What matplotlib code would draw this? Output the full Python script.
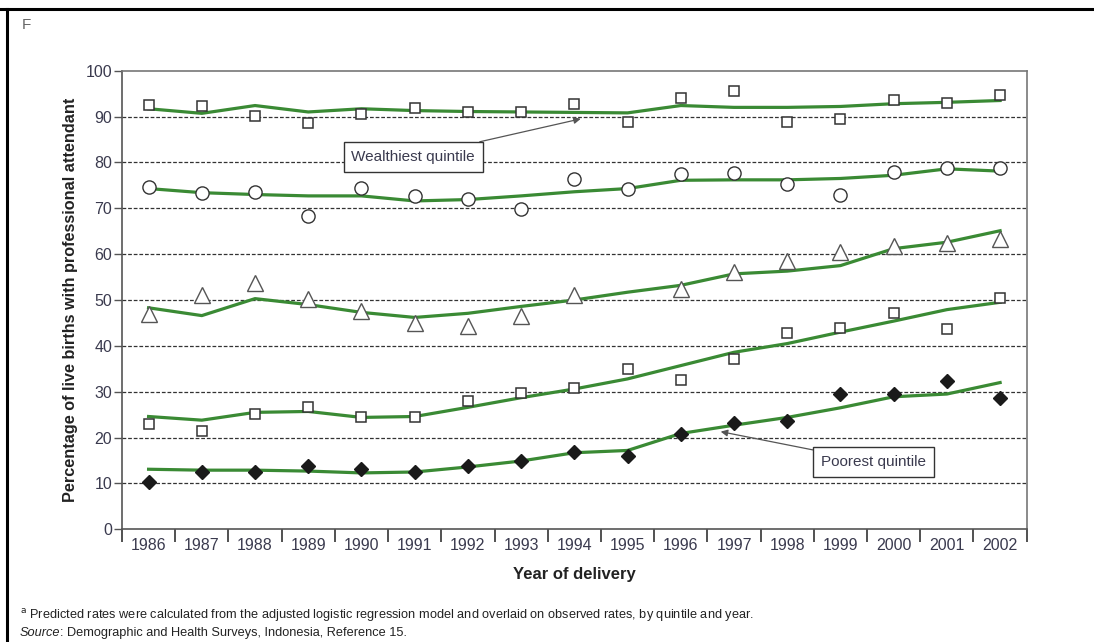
import matplotlib
matplotlib.use('Agg')
import matplotlib.pyplot as plt
import numpy as np

plt.rcParams['font.family'] = ['Liberation Sans Narrow', 'Liberation Sans', 'DejaVu Sans']

years = list(range(1986, 2003))

# observed rates (markers)
obs_q5 = [92.6, 92.2, 90.2, 88.6, 90.5, 91.8, 91.0, 91.0, 92.7, 88.8, 94.0, 95.6, 88.8, 89.4, 93.5, 92.9, 94.7]
obs_q4 = [74.7, 73.4, 73.6, 68.4, 74.5, 72.6, 72.0, 69.8, 76.4, 74.1, 77.4, 77.8, 75.3, 73.0, 77.9, 78.8, 78.7]
obs_q3 = [47.0, 51.2, 53.7, 50.3, 47.7, 45.0, 44.3, 46.6, 51.0, np.nan, 52.3, 56.0, 58.5, 60.5, 61.7, 62.5, 63.2]
obs_q2 = [22.9, 21.4, 25.2, 26.7, 24.4, 24.6, 27.9, 29.8, 30.9, 34.9, 32.6, 37.1, 42.7, 43.8, 47.2, 43.6, 50.5]
obs_q1 = [10.3, 12.5, 12.5, 13.8, 13.1, 12.5, 13.7, 14.9, 16.8, 15.9, 20.7, 23.1, 23.6, 29.6, 29.5, 32.4, 28.6]

# predicted rates (lines)
pred_q5 = [91.7, 90.7, 92.4, 91.0, 91.7, 91.3, 91.1, 91.0, 90.9, 90.8, 92.4, 92.0, 92.0, 92.2, 92.8, 93.1, 93.5]
pred_q4 = [74.3, 73.4, 73.0, 72.7, 72.7, 71.6, 71.9, 72.7, 73.6, 74.3, 76.1, 76.2, 76.2, 76.5, 77.2, 78.6, 78.1]
pred_q3 = [48.3, 46.6, 50.3, 49.0, 47.3, 46.2, 47.1, 48.6, 50.0, 51.7, 53.2, 55.7, 56.3, 57.5, 61.2, 62.6, 65.1]
pred_q2 = [24.6, 23.8, 25.5, 25.7, 24.4, 24.6, 26.6, 28.7, 30.6, 32.8, 35.7, 38.6, 40.5, 43.0, 45.4, 47.9, 49.5]
pred_q1 = [13.1, 12.9, 12.9, 12.7, 12.3, 12.5, 13.6, 14.9, 16.7, 17.2, 20.9, 22.7, 24.4, 26.5, 28.9, 29.5, 32.0]

txt_col = '#3a3a4e'
green = '#3a8a34'
edge = '#333333'

fig = plt.figure(figsize=(10.94, 6.42), dpi=100)
ax = fig.add_axes([0.1115, 0.1755, 0.827, 0.7144])

for pred in (pred_q5, pred_q4, pred_q3, pred_q2, pred_q1):
    ax.plot(years, pred, color=green, lw=2.3, zorder=3)

ax.plot(years, obs_q5, ls='none', marker='s', ms=7.5, mfc='white', mec=edge, mew=1.1, zorder=4)
ax.plot(years, obs_q4, ls='none', marker='o', ms=9.5, mfc='white', mec=edge, mew=1.0, zorder=4)
ax.plot(years, obs_q3, ls='none', marker='^', ms=11, mfc='white', mec='#555555', mew=1.0, zorder=4)
ax.plot(years, obs_q2, ls='none', marker='s', ms=7.5, mfc='white', mec=edge, mew=1.1, zorder=4)
ax.plot(years, obs_q1, ls='none', marker='D', ms=7.5, mfc='#1a1a1a', mec='#1a1a1a', zorder=4)

ax.set_xlim(1985.5, 2002.5)
ax.set_ylim(0, 100)
ax.set_yticks(range(0, 101, 10))
ax.set_xticks(years)
ax.set_xticklabels([str(y) for y in years])
ax.set_xticks(np.arange(1985.5, 2003, 1), minor=True)
ax.tick_params(axis='x', which='major', length=0, pad=6, labelsize=11.5, labelcolor=txt_col)
ax.tick_params(axis='x', which='minor', length=9, width=1.2, color='#333333', direction='out')
ax.tick_params(axis='y', length=6, width=1.0, color='#555555', labelsize=11.5, labelcolor=txt_col, pad=1)

for y in range(10, 100, 10):
    ax.axhline(y, color='#333333', lw=0.9, ls=(0, (3, 1.5)), zorder=1)

for s in ax.spines.values():
    s.set_color('#777777')
    s.set_linewidth(1.2)
ax.spines['left'].set_color('#555555')
ax.spines['bottom'].set_color('#555555')

ax.set_xlabel('Year of delivery', fontsize=12, fontweight='bold', color='#222222', labelpad=10)
ax.set_ylabel('Percentage of live births with professional attendant', fontsize=11.7,
              fontweight='bold', color='#222222')
ax.yaxis.set_label_coords(-0.049, 0.5)

box = dict(boxstyle='square,pad=0.5', fc='white', ec='#333333', lw=1.0)
ax.annotate('Wealthiest quintile', xy=(1994.12, 89.5), xytext=(1990.97, 81.2),
            ha='center', va='center', fontsize=11, color=txt_col, bbox=box,
            arrowprops=dict(arrowstyle='-|>', color='#555555', lw=0.9, mutation_scale=10,
                            shrinkA=0, shrinkB=0), zorder=5)
ax.annotate('Poorest quintile', xy=(1996.75, 21.3), xytext=(1999.62, 14.7),
            ha='center', va='center', fontsize=11, color=txt_col, bbox=box,
            arrowprops=dict(arrowstyle='-|>', color='#555555', lw=0.9, mutation_scale=10,
                            shrinkA=0, shrinkB=0), zorder=5)

# page frame fragments
fig.add_artist(plt.Line2D([0, 1], [1 - 9 / 642, 1 - 9 / 642], color='black', lw=2.2))
fig.add_artist(plt.Line2D([7 / 1094, 7 / 1094], [0, 1 - 9 / 642], color='black', lw=2.2))
fig.text(22 / 1094, 1 - 25 / 642, 'F', fontsize=11, color='#666666', va='center', ha='left')

fig.text(20 / 1094, 1 - 615 / 642,
         '$^{\\mathrm{a}}$ Predicted rates were calculated from the adjusted logistic regression model '
         'and overlaid on observed rates, by quintile and year.',
         fontsize=9.2, color='#222222', va='center', ha='left')
src = fig.text(20 / 1094, 1 - 633 / 642, 'Source', fontsize=9.2, style='italic', color='#222222',
               va='center', ha='left')
ax.annotate(': Demographic and Health Surveys, Indonesia, Reference 15.', xy=(1, 0.5),
            xycoords=src, va='center', ha='left', fontsize=9.2, color='#222222',
            annotation_clip=False)

fig.savefig('out.png', dpi=100)
